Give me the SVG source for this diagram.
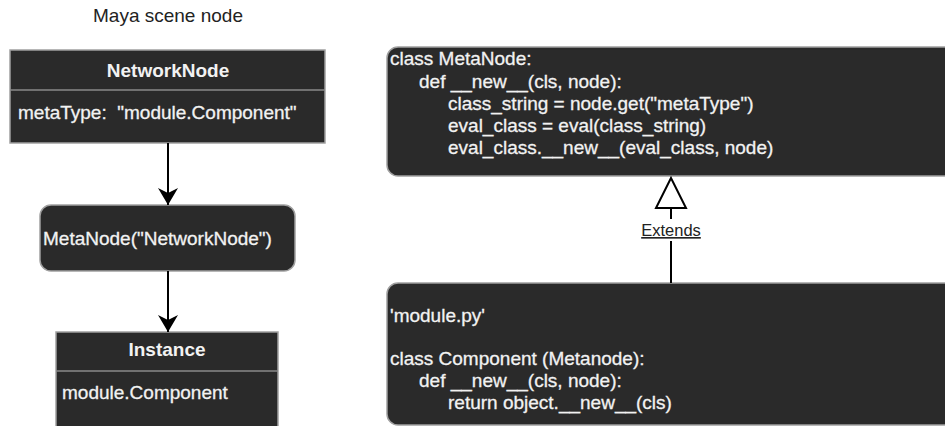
<svg xmlns="http://www.w3.org/2000/svg" width="945" height="426" viewBox="0 0 945 426">
  <style>
    .box { fill: #2a2a2a; stroke: #a0a0a0; stroke-width: 1.5; }
    .sep { stroke: #8a8a8a; stroke-width: 1.5; }
    .t { font-family: "Liberation Sans", Arial, sans-serif; font-size: 19px; fill: #f2f2f2; stroke: #f2f2f2; stroke-width: 0.3; }
    .b { font-weight: bold; stroke-width: 0; }
    .c { text-anchor: middle; }
    .dark { fill: #222; stroke: none; }
    .lbl { font-family: "Liberation Sans", Arial, sans-serif; font-size: 16.5px; fill: #222; text-anchor: middle; text-decoration: underline; }
    .edge { stroke: #000; stroke-width: 2; fill: none; }
  </style>
  <defs>
    <marker id="arr" viewBox="0 0 17 20" refX="17" refY="10" markerWidth="17" markerHeight="20" markerUnits="userSpaceOnUse" orient="auto">
      <path d="M0,0 L17,10 L0,20 L5,10 Z" fill="#000"/>
    </marker>
  </defs>

  <text class="t c dark" x="168" y="22">Maya scene node</text>

  <g id="networknode">
    <rect class="box" x="10" y="50" width="315" height="93"/>
    <line class="sep" x1="10" y1="90" x2="325" y2="90"/>
    <text class="t b c" x="168" y="77">NetworkNode</text>
    <text class="t" x="18" y="119" xml:space="preserve">metaType:  "module.Component"</text>
  </g>

  <g id="metanode-call">
    <rect class="box" x="40" y="205" width="255" height="66" rx="11"/>
    <text class="t" x="43" y="245">MetaNode("NetworkNode")</text>
  </g>

  <g id="instance">
    <rect class="box" x="56" y="332" width="222" height="110"/>
    <line class="sep" x1="56" y1="371" x2="278" y2="371"/>
    <text class="t b c" x="167" y="356">Instance</text>
    <text class="t" x="62" y="399">module.Component</text>
  </g>

  <g id="metanode-class">
    <rect class="box" x="387" y="47" width="580" height="129" rx="11"/>
    <text class="t" x="390" y="65">class MetaNode:</text>
    <text class="t" x="419" y="88">def __new__(cls, node):</text>
    <text class="t" x="448" y="110">class_string = node.get("metaType")</text>
    <text class="t" x="448" y="132">eval_class = eval(class_string)</text>
    <text class="t" x="448" y="154">eval_class.__new__(eval_class, node)</text>
  </g>

  <g id="component-class">
    <rect class="box" x="387" y="283" width="580" height="142" rx="11"/>
    <text class="t" x="390" y="322">'module.py'</text>
    <text class="t" x="390" y="365">class Component (Metanode):</text>
    <text class="t" x="419" y="387">def __new__(cls, node):</text>
    <text class="t" x="448" y="409">return object.__new__(cls)</text>
  </g>

  <g id="connectors">
    <line class="edge" x1="168" y1="143" x2="168" y2="205" marker-end="url(#arr)"/>
    <line class="edge" x1="168" y1="271" x2="168" y2="332" marker-end="url(#arr)"/>
    <line class="edge" x1="671" y1="283" x2="671" y2="241"/>
    <line class="edge" x1="671" y1="219" x2="671" y2="208"/>
    <path d="M671,178 L656,208 L686,208 Z" fill="#fff" stroke="#000" stroke-width="2"/>
    <text class="lbl" x="671" y="236">Extends</text>
  </g>
</svg>
